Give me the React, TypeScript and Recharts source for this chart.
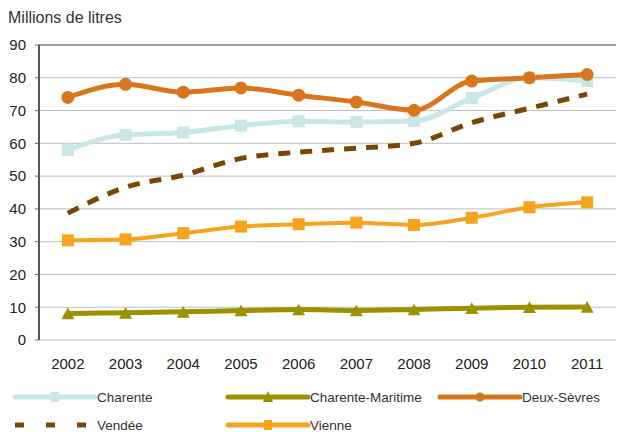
import React from 'react';
import { LineChart, Line, XAxis, YAxis, CartesianGrid, ReferenceLine } from 'recharts';

const years = [2002, 2003, 2004, 2005, 2006, 2007, 2008, 2009, 2010, 2011];
const charente = [58, 62.6, 63.3, 65.4, 66.7, 66.5, 66.8, 73.8, 80, 79];
const charenteMaritime = [8.1, 8.3, 8.6, 9.0, 9.3, 9.0, 9.3, 9.7, 10.0, 10.1];
const deuxSevres = [74, 78, 75.6, 76.9, 74.7, 72.6, 70.1, 79, 80, 81];
const vendee = [38.7, 46.6, 50.3, 55.4, 57.3, 58.5, 60, 66.3, 70.7, 75];
const vienne = [30.4, 30.7, 32.6, 34.6, 35.3, 35.8, 35.1, 37.3, 40.5, 42];
const yTicks = [0, 10, 20, 30, 40, 50, 60, 70, 80, 90];
const bandEdges = [2001.5, 2002.5, 2003.5, 2004.5, 2005.5, 2006.5, 2007.5, 2008.5, 2009.5, 2010.5, 2011.5];

const data = years.map((y, i) => ({
  year: y,
  charente: charente[i],
  cm: charenteMaritime[i],
  ds: deuxSevres[i],
  vendee: vendee[i],
  vienne: vienne[i],
}));

const FONT = '"Liberation Sans", Arial, sans-serif';

const Square = (color: string, s: number) => (props: any) => {
  const { cx, cy } = props;
  if (cx == null || cy == null) return null;
  return <rect key={props.index} x={cx - s / 2} y={cy - s / 2} width={s} height={s} fill={color} />;
};
const Circle = (color: string, r: number) => (props: any) => {
  const { cx, cy } = props;
  if (cx == null || cy == null) return null;
  return <circle key={props.index} cx={cx} cy={cy} r={r} fill={color} />;
};
const Tri = (color: string, s: number) => (props: any) => {
  const { cx, cy } = props;
  if (cx == null || cy == null) return null;
  const h = s * 0.9;
  return (
    <path key={props.index} d={`M${cx},${cy - h / 2} L${cx + s / 2},${cy + h / 2} L${cx - s / 2},${cy + h / 2} Z`} fill={color} />
  );
};

const series = [
  { key: 'charente', name: 'Charente', color: '#CAE7E7', marker: 'square' },
  { key: 'cm', name: 'Charente-Maritime', color: '#9C9100', marker: 'tri' },
  { key: 'ds', name: 'Deux-Sèvres', color: '#D8761E', marker: 'circle' },
  { key: 'vendee', name: 'Vendée', color: '#7A4600', marker: 'dash' },
  { key: 'vienne', name: 'Vienne', color: '#F6A31E', marker: 'square' },
];

const legendPos = [
  { x: 15, y: 397 },
  { x: 228, y: 397 },
  { x: 440, y: 397 },
  { x: 15, y: 425 },
  { x: 228, y: 425 },
];

const LegendBox = () => (
  <svg width={617} height={432} style={{ position: 'absolute', left: 0, top: 0, pointerEvents: 'none' }}>
    {series.map((s, i) => {
      const p = legendPos[i];
      const y = p.y;
      const mid = p.x + 40;
      return (
        <g key={s.key}>
          {s.marker === 'dash' ? (
            <line x1={p.x} x2={p.x + 80} y1={y} y2={y} stroke={s.color} strokeWidth={5} strokeDasharray="9 22" />
          ) : (
            <line x1={p.x} x2={p.x + 80} y1={y} y2={y} stroke={s.color} strokeWidth={5} strokeLinecap="round" />
          )}
          {s.marker === 'square' && <rect x={mid - 4} y={y - 5} width={8} height={10} fill={s.color} />}
          {s.marker === 'circle' && <circle cx={mid} cy={y} r={4.5} fill={s.color} />}
          {s.marker === 'tri' && <path d={`M${mid},${y - 6} L${mid + 5},${y + 5} L${mid - 5},${y + 5} Z`} fill={s.color} />}
          <text x={p.x + 82} y={y + 5} fontSize={13.5} fill="#333" fontFamily={FONT}>
            {s.name}
          </text>
        </g>
      );
    })}
  </svg>
);

export default function App() {
  return (
    <div style={{ position: 'absolute', left: 0, top: 0, width: 617, height: 432, fontFamily: FONT, background: '#fff' }}>
      <div style={{ position: 'absolute', left: 8, top: 9, fontSize: 16, lineHeight: '18px', color: '#333' }}>Millions de litres</div>
      <LineChart width={617} height={432} data={data} margin={{ top: 45, right: 1, left: 0, bottom: 62 }}>
        <CartesianGrid horizontal vertical={false} stroke="#BEBEBE" strokeWidth={1} />
        <XAxis
          xAxisId="edges"
          dataKey="year"
          type="number"
          domain={[2001.5, 2011.5]}
          ticks={bandEdges}
          tick={false}
          tickSize={5}
          axisLine={{ stroke: '#555', strokeWidth: 2 }}
          tickLine={{ stroke: '#555', strokeWidth: 1.5 }}
          height={0}
          allowDataOverflow
        />
        <XAxis
          xAxisId="yr"
          dataKey="year"
          type="number"
          domain={[2001.5, 2011.5]}
          ticks={years}
          axisLine={false}
          tickLine={false}
          tickSize={4}
          tickMargin={14}
          height={30}
          tick={{ fontSize: 15, fill: '#222', fontFamily: FONT }}
          allowDataOverflow
        />
        <YAxis
          domain={[0, 90]}
          ticks={yTicks}
          width={39}
          tickSize={4}
          tickMargin={9}
          axisLine={{ stroke: '#555', strokeWidth: 2 }}
          tickLine={{ stroke: '#666' }}
          tick={{ fontSize: 15, fill: '#222', fontFamily: FONT }}
          interval={0}
        />
        <ReferenceLine y={90} xAxisId="yr" stroke="#A0A0A0" strokeWidth={2} />
        <Line xAxisId="yr" type="monotone" dataKey="charente" name="Charente" stroke="#CAE7E7" strokeWidth={5} dot={Square('#CAE7E7', 12)} isAnimationActive={false} />
        <Line xAxisId="yr" type="monotone" dataKey="cm" name="Charente-Maritime" stroke="#9C9100" strokeWidth={5} dot={Tri('#9C9100', 13)} isAnimationActive={false} />
        <Line xAxisId="yr" type="monotone" dataKey="ds" name="Deux-Sèvres" stroke="#D8761E" strokeWidth={5} dot={Circle('#D8761E', 6.5)} isAnimationActive={false} />
        <Line xAxisId="yr" type="monotone" dataKey="vendee" name="Vendée" stroke="#7A4600" strokeWidth={5} strokeDasharray="12 10" dot={false} isAnimationActive={false} />
        <Line xAxisId="yr" type="monotone" dataKey="vienne" name="Vienne" stroke="#F6A31E" strokeWidth={4} dot={Square('#F6A31E', 12)} isAnimationActive={false} />
      </LineChart>
      <LegendBox />
    </div>
  );
}
